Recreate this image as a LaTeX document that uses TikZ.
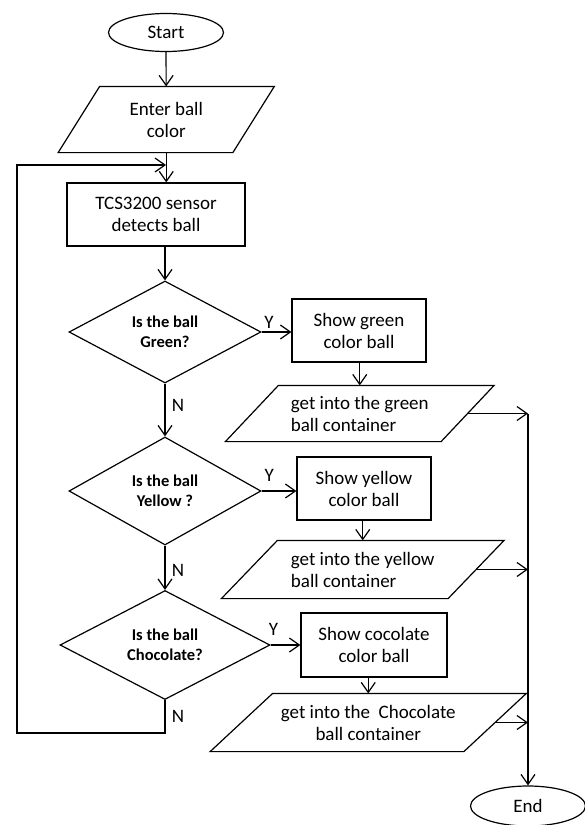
\documentclass[tikz,border=0pt]{standalone}
\usepackage{fontspec}
\setmainfont{Carlito}
\usetikzlibrary{positioning,shapes.geometric,arrows.meta,calc}

\begin{document}
\begin{tikzpicture}[x=1pt, y=-1pt, line width=1.2pt,
  font=\fontsize{19}{22}\selectfont,
  arr/.style={-{Straight Barb[length=10pt,width=14pt]}},
  term/.style={draw, ellipse, inner sep=0pt, minimum width=115pt, minimum height=38pt},
  proc/.style={draw, rectangle, inner sep=0pt, minimum height=63pt, align=center},
  dec/.style={draw, diamond, shape aspect=2, inner sep=0pt, align=center,
    font=\fontsize{16.5}{20.5}\selectfont\bfseries},
  io/.style={rectangle, inner sep=0pt}]
  \useasboundingbox (0,0) rectangle (584,825);
  % main column
  \node[term] (start) at (166,32.5) {Start};
  \node[io, align=center, minimum width=173.5pt, minimum height=65pt] (enter) at (166.25,119.5) {Enter ball\\color};
  \node[proc, minimum width=178pt] (tcs) at (156,214.5) {TCS3200 sensor\\detects ball};
  \node[dec, minimum width=192pt, minimum height=102pt] (dgreen) at (165,332) {Is the ball\\Green?};
  \node[dec, minimum width=192pt, minimum height=108pt] (dyellow) at (165,491) {Is the ball\\Yellow ?};
  \node[dec, minimum width=210pt, minimum height=109pt] (dchoc) at (165,645) {Is the ball\\Chocolate?};
  % right column
  \node[proc, minimum width=134pt] (sgreen) at (359,330.5) {Show green\\color ball};
  \node[proc, minimum width=134pt] (syellow) at (364,488.5) {Show yellow\\color ball};
  \node[proc, minimum width=146pt, minimum height=64pt] (schoc) at (374,645) {Show cocolate\\color ball};
  \node[io, align=left, minimum width=214.5pt, minimum height=55pt] (pgreen) at (359.75,413.5) {get into the green\\ball container};
  \node[io, align=left, minimum width=225.5pt, minimum height=57pt] (pyellow) at (362.75,569.5) {get into the yellow\\ball container};
  \node[io, align=center, minimum width=252.5pt, minimum height=57pt] (pchoc) at (368.25,722.5) {get into the \ Chocolate\\ball container};
  \node[term, minimum height=40pt] (stop) at (528,806) {End};
  \coordinate (back) at (17,733);
  \coordinate (join) at (166,165);

  % slanted outlines of the input/output boxes
  \foreach \n/\s in {enter/41.5, pgreen/53, pyellow/56, pchoc/62.5}
    \draw ($(\n.south west)+(-\s/2,0)$) -- ($(\n.south east)+(-\s/2,0)$)
      -- ($(\n.north east)+(\s/2,0)$) -- ($(\n.north west)+(\s/2,0)$) -- cycle;

  \draw[arr] (start) -- (enter);
  \draw[arr] (enter.south) -- (enter.south |- tcs.north);
  \draw[arr] (tcs.south -| dgreen.north) -- (dgreen.north);
  \draw[arr] (dgreen.south) -- node[right=3pt, pos=0.42] {N} (dyellow.north);
  \draw[arr] (dyellow.south) -- node[right=3pt, pos=0.55] {N} (dchoc.north);
  \draw[arr] (dchoc.south) -- node[right=3pt] {N} (dchoc.south |- back) -- (back) |- (join);

  \draw[arr] (dgreen.east) -- node[above, pos=0.25] {Y} (dgreen.east -| sgreen.west);
  \draw[arr] (dyellow.east) -- node[above=6pt, pos=0.22] {Y} (dyellow.east -| syellow.west);
  \draw[arr] (dchoc.east) -- node[above=6pt, pos=0.1] {Y} (dchoc.east -| schoc.west);

  \draw[arr] (sgreen.south -| pgreen.north) -- (pgreen.north);
  \draw[arr] (syellow.south -| pyellow.north) -- (pyellow.north);
  \draw[arr] (schoc.south -| pchoc.north) -- (pchoc.north);

  \draw[arr] (pgreen.east) -- (pgreen.east -| stop.north);
  \draw[arr] (pyellow.east) -- (pyellow.east -| stop.north);
  \draw[arr] (pchoc.east) -- (pchoc.east -| stop.north);
  \draw[arr] (pgreen.east -| stop.north) -- (stop.north);
\end{tikzpicture}
\end{document}
